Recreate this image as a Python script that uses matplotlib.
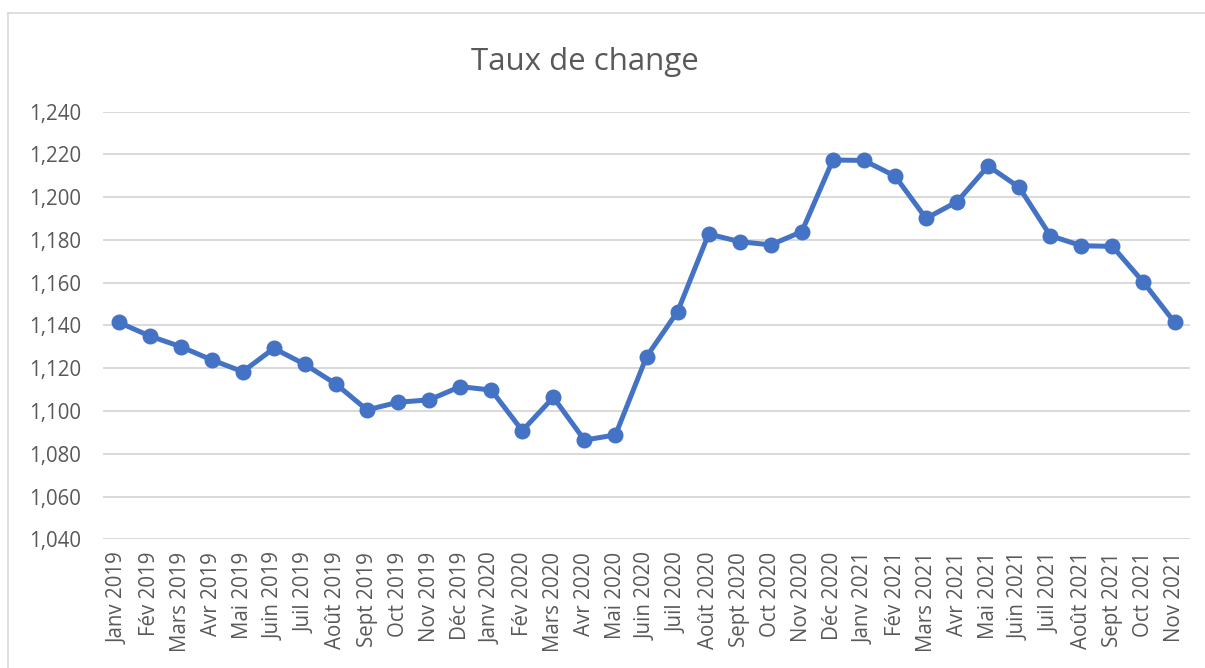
# coding:utf-8
# Taux de change, Janv 2019 - Nov 2021

import matplotlib
matplotlib.use("Agg")
import matplotlib.pyplot as plt
from matplotlib.lines import Line2D

mois = ["Janv", "Fév", "Mars", "Avr", "Mai", "Juin", "Juil", "Août",
        "Sept", "Oct", "Nov", "Déc"]
labels = [f"{m} {a}" for a in (2019, 2020, 2021) for m in mois][:35]

taux = [1.1415, 1.1351, 1.1301, 1.1239, 1.1184, 1.1293, 1.1218, 1.1126,
        1.1005, 1.1041, 1.1052, 1.1114, 1.1098, 1.0908, 1.1064, 1.0864,
        1.0888, 1.1254, 1.1465, 1.1828, 1.1792, 1.1777, 1.1839, 1.2174,
        1.2172, 1.2099, 1.1901, 1.1979, 1.2146, 1.2046, 1.1820, 1.1773,
        1.1770, 1.1602, 1.1415]

yticks = [1.04 + 0.02 * i for i in range(11)]

plt.rcParams['font.family'] = ['Open Sans', 'DejaVu Sans']
gris = '#595959'

fig = plt.figure(figsize=(12.05, 6.68), dpi=100)
ax = fig.add_axes([0.0855, 0.1927, 0.9021, 0.6401])

ax.plot(range(len(taux)), taux, color='#4472C4', lw=3.6, marker='o',
        markersize=10.5, solid_capstyle='round', solid_joinstyle='round', zorder=3)

ax.set_xlim(-0.5, len(taux) - 0.5)
ax.set_ylim(1.04, 1.24)
ax.set_yticks(yticks)
ax.set_yticklabels([f"{v:.3f}".replace('.', ',') for v in yticks])
ax.set_xticks(range(len(labels)))
ax.set_xticklabels(labels, rotation=90)
ax.tick_params(axis='both', length=0, colors=gris, labelsize=14.8)
ax.tick_params(axis='y', pad=16)
ax.tick_params(axis='x', pad=9)

ax.grid(axis='y', color='#D9D9D9', lw=1.4)
ax.set_axisbelow(True)
for s in ax.spines.values():
    s.set_visible(False)

fig.text(0.485, 0.907, "Taux de change", ha='center', va='center',
         fontsize=22.5, color=gris)

# cadre du graphique
W, H = 1205, 668
fig.add_artist(Line2D([8 / W, 8 / W], [0, 1 - 13 / H], transform=fig.transFigure,
                      color='#D9D9D9', lw=1.2))
fig.add_artist(Line2D([8 / W, 1], [1 - 13 / H, 1 - 13 / H], transform=fig.transFigure,
                      color='#D9D9D9', lw=1.2))

fig.savefig("out.png", dpi=100)
